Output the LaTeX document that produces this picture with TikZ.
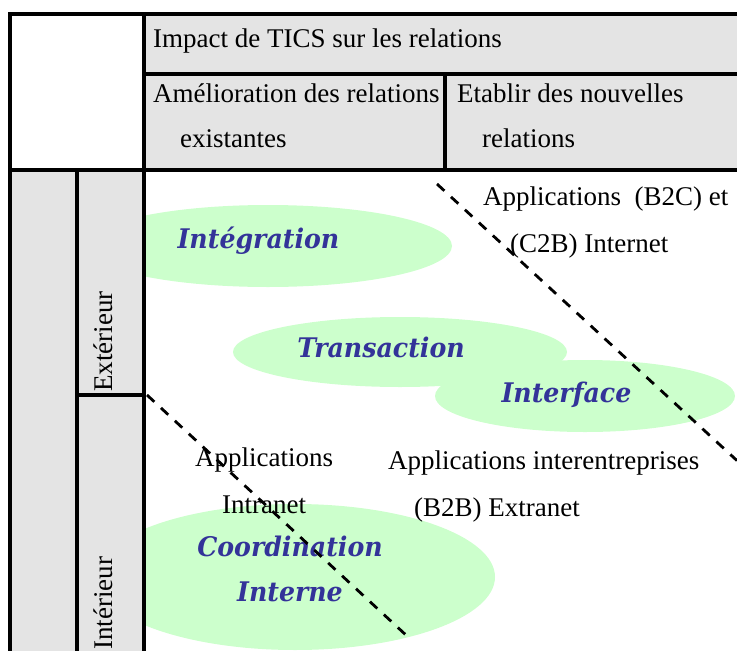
\documentclass[tikz,border=0pt]{standalone}
\usepackage{fontspec}
\setmainfont{Liberation Serif}
\newfontfamily\labfont[FakeStretch=0.935]{DejaVu Serif}
\definecolor{cellgrey}{RGB}{228,228,228}
\definecolor{blobgreen}{RGB}{204,255,204}
\definecolor{labblue}{RGB}{51,51,153}
\begin{document}
\begin{tikzpicture}[x=1pt,y=-1pt,
  greyfill/.style={fill=cellgrey, draw=none},
  rule/.style={line width=4pt, line cap=rect},
  blob/.style={fill=blobgreen, draw=none},
  txt/.style={anchor=base west, inner sep=0pt, font=\fontsize{27}{32}\selectfont},
  lab/.style={anchor=base, inner sep=0pt, text=labblue, font=\labfont\bfseries\itshape\fontsize{27}{32}\selectfont},
  sepline/.style={dash pattern=on 10pt off 9pt, line width=2.8pt}
]
\useasboundingbox (0,0) rectangle (737,651);
\begin{scope}
\clip (0,0) rectangle (737,651);
% ellipses
\fill[blob] (268,246) ellipse [x radius=184, y radius=41];
\fill[blob] (400,352) ellipse [x radius=167, y radius=35];
\fill[blob] (585,396) ellipse [x radius=150, y radius=36];
\fill[blob] (295,577) ellipse [x radius=200, y radius=73];
% cell fills
\fill[greyfill] (144,14) rectangle (737,170);
\fill[greyfill] (10,170) rectangle (144,651);
% rules
\draw[rule] (10,14) -- (737,14);
\draw[rule] (10,14) -- (10,651);
\draw[rule] (144,14) -- (144,651);
\draw[rule] (144,74) -- (737,74);
\draw[rule] (445,74) -- (445,170);
\draw[rule] (10,170) -- (737,170);
\draw[rule] (77,170) -- (77,651);
\draw[rule] (77,395) -- (144,395);
% header texts
\node[txt] (impact) at (153,47) {Impact de TICS sur les relations};
\node[txt] (amel1) at (153,102) {Amélioration des relations};
\node[txt] (amel2) at (180,147) {existantes};
\node[txt] (etab1) at (457,102) {Etablir des nouvelles};
\node[txt] (etab2) at (482,147) {relations};
% side texts
\node[txt, rotate=90] (ext) at (112,392) {Extérieur};
\node[txt, rotate=90] (int) at (112,650) {Intérieur};
% body texts
\node[txt] (b2c1) at (483,205) {Applications\ \ (B2C) et};
\node[txt] (b2c2) at (510,252) {(C2B) Internet};
\node[txt] (intra1) at (195,466) {Applications};
\node[txt] (intra2) at (222,513) {Intranet};
\node[txt] (b2b1) at (388,469) {Applications interentreprises};
\node[txt] (b2b2) at (414,516) {(B2B) Extranet};
% labels
\node[lab] (integ) at (258.5,248.5) {Intégration};
\node[lab] (trans) at (381,357) {Transaction};
\node[lab] (inter) at (566.5,402) {Interface};
\node[lab] (coord) at (290,556) {Coordination};
\node[lab] (interne) at (290,601) {Interne};
% dashed separators
\coordinate (d1a) at (437,184);
\coordinate (d1b) at (737,460.6);
\coordinate (d2a) at (147,395);
\coordinate (d2b) at (407,636);
\draw[sepline] (d1a) -- (d1b);
\draw[sepline] (d2a) -- (d2b);
\end{scope}
\end{tikzpicture}
\end{document}
